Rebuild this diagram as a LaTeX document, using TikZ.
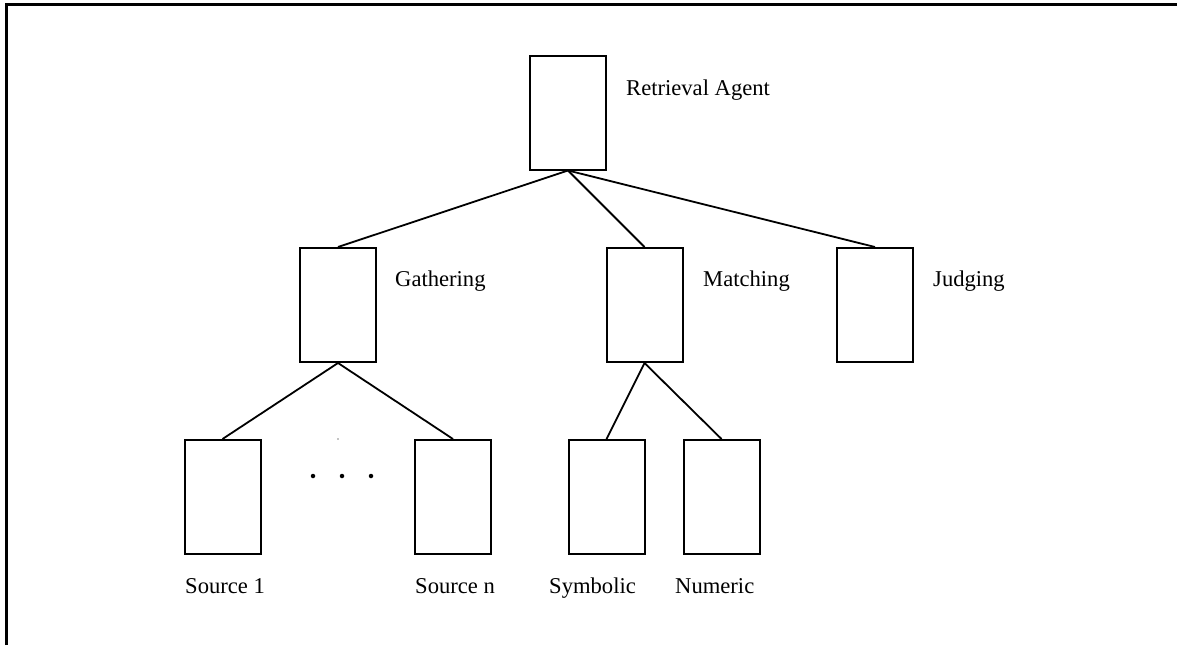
\documentclass[tikz,border=0pt]{standalone}
\usepackage{fontspec}
\setmainfont{Liberation Serif}
\begin{document}
\begin{tikzpicture}[x=1pt,y=-1pt,
  box/.style={draw, line width=2pt, minimum width=76pt, minimum height=114pt, inner sep=0pt},
  lbl/.style={anchor=base west, inner sep=0pt, font=\fontsize{22.6}{26}\selectfont},
  link/.style={line width=1.8pt},
  dotmark/.style={circle, fill, inner sep=0pt, minimum size=4.5pt}]
\useasboundingbox (0,0) rectangle (1177,645);
\draw[line width=3pt] (6,645) -- (6,4.5) -- (1177,4.5);
% boxes
\node[box] (ra)  at (568,112.5) {};
\node[box] (ga)  at (338,305) {};
\node[box] (ma)  at (644.5,305) {};
\node[box] (ju)  at (875,305) {};
\node[box] (s1)  at (222.5,497) {};
\node[box] (sn)  at (453,497) {};
\node[box] (sy)  at (606.5,497) {};
\node[box] (nu)  at (721.5,497) {};
% labels
\node[lbl] (lra) at (626,95) {Retrieval Agent};
\node[lbl] (lga) at (395,286) {Gathering};
\node[lbl] (lma) at (703,286) {Matching};
\node[lbl] (lju) at (933,286) {Judging};
\node[lbl] (ls1) at (185,593) {Source 1};
\node[lbl] (lsn) at (415,593) {Source n};
\node[lbl] (lsy) at (549,593) {Symbolic};
\node[lbl] (lnu) at (675,593) {Numeric};
% connectors
\draw[link] (ra.south) -- (ga.north);
\draw[link] (ra.south) -- (ma.north);
\draw[link] (ra.south) -- (ju.north);
\draw[link] (ga.south) -- (s1.north);
\draw[link] (ga.south) -- (sn.north);
\draw[link] (ma.south) -- (sy.north);
\draw[link] (ma.south) -- (nu.north);
% ellipsis dots
\node[dotmark] (d1) at (313,476) {};
\node[dotmark] (d2) at (342,476) {};
\node[dotmark] (d3) at (371,476) {};
\node[circle, fill, inner sep=0pt, minimum size=1.2pt] (speck) at (338,439) {};
\end{tikzpicture}
\end{document}
